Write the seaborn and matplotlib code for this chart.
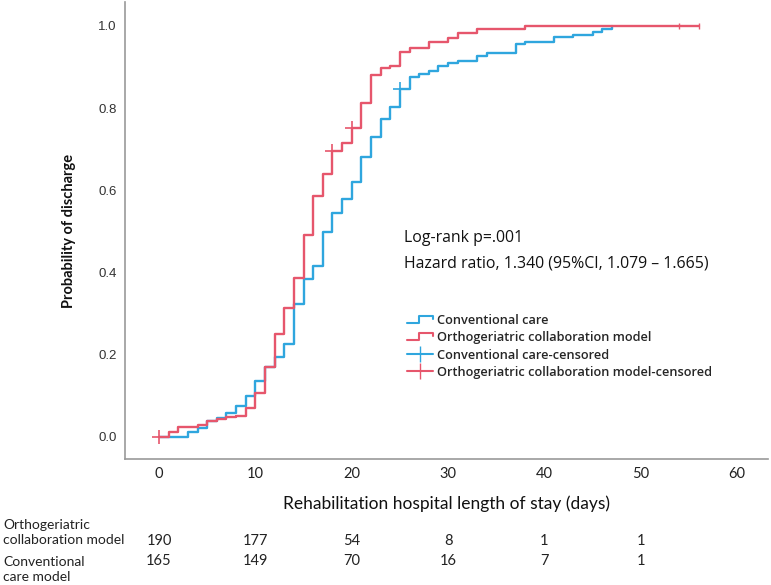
import matplotlib
matplotlib.use('Agg')
import matplotlib.pyplot as plt
import matplotlib.transforms as mtransforms
from matplotlib.legend_handler import HandlerBase
from matplotlib.lines import Line2D
import numpy as np
import pandas as pd
import seaborn as sns

# Kaplan-Meier style cumulative discharge curves
ocm_days = [0, 1, 2, 4, 5, 6, 7, 8, 9, 10, 11, 12, 13, 14, 15, 16, 17, 18, 19, 20,
            21, 22, 23, 24, 25, 26, 28, 30, 31, 33, 38, 56]
ocm_prob = [0.0, 0.012, 0.024, 0.030, 0.039, 0.044, 0.049, 0.051, 0.071, 0.107,
            0.170, 0.251, 0.314, 0.387, 0.491, 0.586, 0.640, 0.696, 0.715, 0.752,
            0.813, 0.881, 0.898, 0.903, 0.937, 0.946, 0.961, 0.971, 0.983, 0.993,
            1.0, 1.0]

cc_days = [0, 3, 4, 5, 6, 7, 8, 9, 10, 11, 12, 13, 14, 15, 16, 17, 18, 19, 20, 21,
           22, 23, 24, 25, 26, 27, 28, 29, 30, 31, 33, 34, 37, 38, 41, 43, 45, 46, 47]
cc_prob = [0.0, 0.012, 0.022, 0.039, 0.046, 0.058, 0.075, 0.100, 0.136, 0.170,
           0.195, 0.226, 0.324, 0.384, 0.416, 0.499, 0.545, 0.579, 0.620, 0.681,
           0.730, 0.774, 0.803, 0.847, 0.876, 0.883, 0.890, 0.903, 0.910, 0.915,
           0.927, 0.934, 0.956, 0.961, 0.973, 0.978, 0.985, 0.993, 1.0]

# censored observations
ocm_cens_days = [0, 18, 20, 54, 56]
ocm_cens_prob = [0.0, 0.696, 0.752, 1.0, 1.0]
cc_cens_days = [25]
cc_cens_prob = [0.847]

# number at risk table
risk_ticks = [0, 10, 20, 30, 40, 50]
risk_ocm = [190, 177, 54, 8, 1, 1]
risk_cc = [165, 149, 70, 16, 7, 1]

groups = ["Conventional care", "Orthogeriatric collaboration model"]
colors = {"Conventional care": "#2FA6DE", "Orthogeriatric collaboration model": "#E6566C"}

curves = pd.concat([
    pd.DataFrame({"day": cc_days, "prob": cc_prob, "group": groups[0]}),
    pd.DataFrame({"day": ocm_days, "prob": ocm_prob, "group": groups[1]}),
])


class StepHandler(HandlerBase):
    """Legend icon shaped like a little step."""
    def create_artists(self, legend, orig_handle, xdescent, ydescent,
                       width, height, fontsize, trans):
        x = np.array([0, 0.45, 0.45, 1.0, 1.0]) * width - xdescent
        y = np.array([0.1, 0.1, 0.9, 0.9, 0.55]) * height - ydescent
        line = Line2D(x, y, color=orig_handle.get_color(), lw=1.5)
        line.set_transform(trans)
        return [line]


sns.set_style("white")
plt.rcParams['font.family'] = ['Lato', 'DejaVu Sans']

fig = plt.figure(figsize=(7.71, 5.85), dpi=100)
ax = fig.add_axes([0.1621, 0.2154, 0.8340, 0.7812])

for g in groups:
    sub = curves[curves.group == g]
    sns.lineplot(data=sub, x="day", y="prob", color=colors[g], ax=ax,
                 drawstyle="steps-post", lw=1.7, legend=False, estimator=None)

sns.scatterplot(x=cc_cens_days, y=cc_cens_prob, marker="+", s=90, linewidth=1.2,
                color=colors[groups[0]], ax=ax, zorder=5, legend=False)
sns.scatterplot(x=ocm_cens_days[:3], y=ocm_cens_prob[:3], marker="+", s=90, linewidth=1.2,
                color=colors[groups[1]], ax=ax, zorder=5, legend=False)
sns.scatterplot(x=ocm_cens_days[3:], y=ocm_cens_prob[3:], marker="|", s=20, linewidth=1.0,
                color=colors[groups[1]], ax=ax, zorder=5, legend=False)

ax.set_xlim(-3.53, 63.2)
ax.set_ylim(-0.0535, 1.058)
ax.set_xticks(range(0, 61, 10))
ax.set_yticks([0.0, 0.2, 0.4, 0.6, 0.8, 1.0])
ax.set_yticklabels(["0.0", "0.2", "0.4", "0.6", "0.8", "1.0"],
                   family="Liberation Sans", fontsize=9.5, color="#333333")
ax.set_xticklabels([str(t) for t in range(0, 61, 10)], fontsize=10.5, color="#222222")
ax.tick_params(axis="both", length=0)
ax.tick_params(axis="x", pad=6)
ax.tick_params(axis="y", pad=6)

for side in ["top", "right"]:
    ax.spines[side].set_visible(False)
for side in ["left", "bottom"]:
    ax.spines[side].set_color("#999999")
    ax.spines[side].set_linewidth(1.2)

ax.set_xlabel("Rehabilitation hospital length of stay (days)", fontsize=12.5,
              labelpad=10, color="#111111")
ax.set_ylabel("Probability of discharge", fontsize=10.5, fontweight="bold",
              labelpad=16, color="#111111")

# statistics annotation
fig.text(0.524, 0.593, "Log-rank p=.001", fontsize=11.4, family="Open Sans",
         va="center", ha="left", color="#111111")
fig.text(0.524, 0.5504, "Hazard ratio, 1.340 (95%CI, 1.079 \u2013 1.665)", fontsize=11.4,
         family="Open Sans", va="center", ha="left", color="#111111")

# legend
handles = [
    Line2D([], [], color=colors[groups[0]]),
    Line2D([], [], color=colors[groups[1]]),
    Line2D([], [], color=colors[groups[0]], marker="|", markersize=11, lw=1.5),
    Line2D([], [], color=colors[groups[1]], marker="|", markersize=11, lw=1.5),
]
labels = ["Conventional care", "Orthogeriatric collaboration model",
          "Conventional care-censored", "Orthogeriatric collaboration model-censored"]
ax.legend(handles, labels, loc="upper left", bbox_to_anchor=(0.52, 0.474),
          bbox_transform=fig.transFigure, frameon=False, handlelength=2.0,
          handletextpad=0.35, labelspacing=0.33, borderpad=0,
          prop={"family": "Open Sans", "size": 9.2, "weight": "semibold"},
          handler_map={handles[0]: StepHandler(), handles[1]: StepHandler()})

# number at risk table
trans = mtransforms.blended_transform_factory(ax.transData, fig.transFigure)
for t, n in zip(risk_ticks, risk_ocm):
    ax.text(t, 0.0752, str(n), transform=trans, ha="center", va="center",
            fontsize=10.5, color="#222222")
for t, n in zip(risk_ticks, risk_cc):
    ax.text(t, 0.041, str(n), transform=trans, ha="center", va="center",
            fontsize=10.5, color="#222222")
fig.text(0.004, 0.089, "Orthogeriatric\ncollaboration model", fontsize=10,
         va="center", ha="left", linespacing=1.3, color="#222222")
fig.text(0.004, 0.0265, "Conventional\ncare model", fontsize=10,
         va="center", ha="left", linespacing=1.3, color="#222222")

fig.savefig("out.png", dpi=100)
